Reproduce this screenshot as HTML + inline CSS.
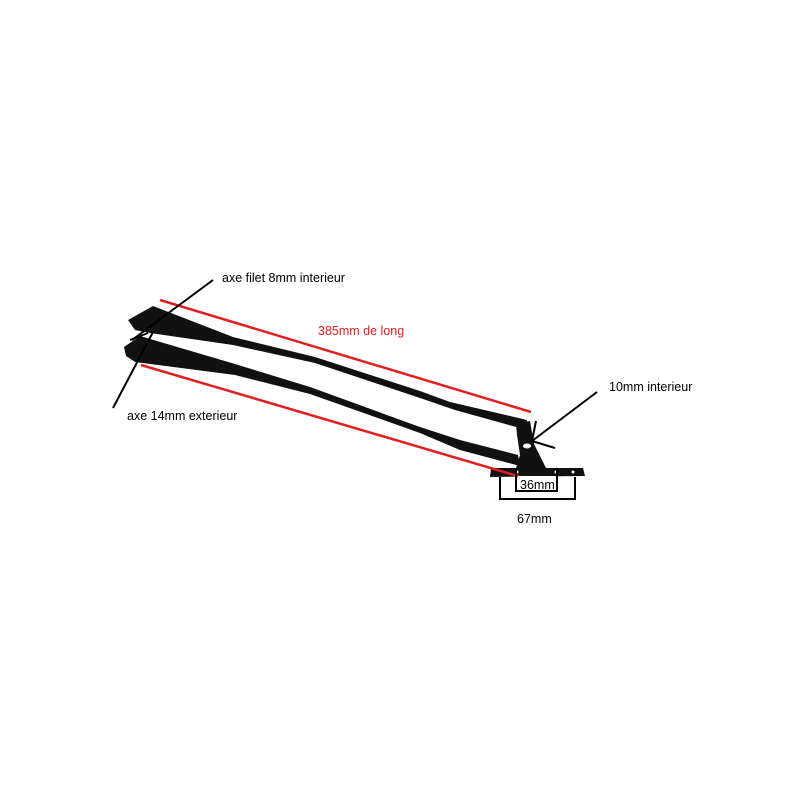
<!DOCTYPE html>
<html><head><meta charset="utf-8"><style>
html,body{margin:0;padding:0;background:#fff;}
svg{display:block;}
text{font-family:"Liberation Sans",sans-serif;font-size:12.5px;}
</style></head><body>
<svg width="800" height="800" viewBox="0 0 800 800" xmlns="http://www.w3.org/2000/svg">
<rect width="800" height="800" fill="#fff"/>
<!-- top arm -->
<polygon fill="#111" points="128,320 153,306 233,337 315,357 420,391 450,402 527,420 527,430 455,410 420,398 315,363 233,345 150,333 135,330"/>
<!-- bottom arm -->
<polygon fill="#111" points="124,347 140,336 235,364 310,387 420,427 460,440 518,455 520,466 460,450 420,433 310,394 235,375 135,362 126,356"/>
<!-- bracket -->
<polygon fill="#111" points="516,424 530,421 534,444 546,468 516,468 520,455 517,435"/>
<ellipse cx="527" cy="446" rx="4" ry="2.5" fill="#fff"/>
<!-- plate -->
<polygon fill="#111" points="491,468 583,468 585,476 490,477"/>
<circle cx="517" cy="472" r="1.5" fill="#fff"/><circle cx="556" cy="472" r="1.5" fill="#fff"/><circle cx="573" cy="472" r="1.5" fill="#fff"/>
<!-- red lines -->
<line x1="160" y1="300" x2="531" y2="412" stroke="#e02020" stroke-width="2.5"/>
<line x1="141" y1="365" x2="521" y2="477" stroke="#e02020" stroke-width="2.5"/>
<!-- black pointer lines -->
<line x1="213" y1="280" x2="132" y2="340" stroke="#000" stroke-width="2"/>
<line x1="113" y1="408" x2="153" y2="332" stroke="#000" stroke-width="2"/>
<line x1="130" y1="340" x2="148" y2="333" stroke="#000" stroke-width="2"/>
<line x1="597" y1="392" x2="532" y2="441" stroke="#000" stroke-width="2"/>
<line x1="536" y1="421" x2="532" y2="441" stroke="#000" stroke-width="2"/>
<line x1="532" y1="441" x2="555" y2="448" stroke="#000" stroke-width="2"/>
<!-- dimension boxes -->
<polyline points="516,468 516,491 557,491 557,468" fill="none" stroke="#000" stroke-width="2"/>
<polyline points="500,477 500,499 575,499 575,477" fill="none" stroke="#000" stroke-width="2"/>
<rect x="518" y="476" width="38" height="14" fill="#fff"/>
<!-- text -->
<text x="222" y="282">axe filet 8mm interieur</text>
<text x="127" y="420">axe 14mm exterieur</text>
<text x="318" y="335" fill="#e02020">385mm de long</text>
<text x="609" y="391">10mm interieur</text>
<text x="520" y="489">36mm</text>
<text x="517" y="523">67mm</text>
</svg>
</body></html>
